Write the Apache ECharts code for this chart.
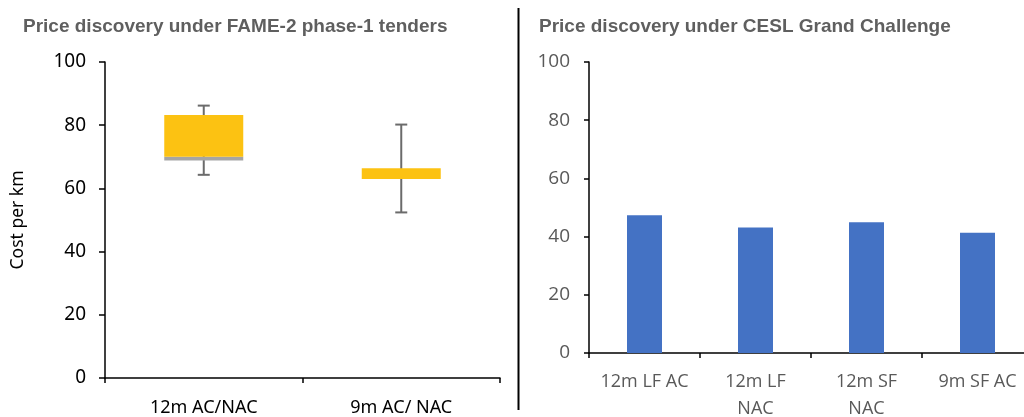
<!DOCTYPE html>
<html>
<head>
<meta charset="utf-8">
<script src="https://cdn.jsdelivr.net/npm/echarts@6/dist/echarts.min.js"></script>
<style>html,body{margin:0;padding:0;background:#fff}#c{width:1024px;height:417px}</style>
</head>
<body>
<div id="c"></div>
<script>
var boxCats = ['12m AC/NAC', '9m AC/ NAC'];
var boxMin = [64.3, 52.4];
var boxQ1 = [68.8, 63.0];
var boxMedian = [70.0, 63.0];
var boxQ3 = [83.2, 66.4];
var boxMax = [86.2, 80.2];

var barCats = ['12m LF AC', '12m LF\nNAC', '12m SF\nNAC', '9m SF AC'];
var barValues = [47.3, 43.1, 44.9, 41.3];

var yTicks = [0, 20, 40, 60, 80, 100];

var chart = echarts.init(document.getElementById('c'), null, {renderer: 'canvas'});

var boxData = boxCats.map(function (c, i) {
  return [i, boxMin[i], boxQ1[i], boxMedian[i], boxQ3[i], boxMax[i]];
});

function renderBox(params, api) {
  var x = api.value(0);
  var pMin = api.coord([x, api.value(1)]);
  var pQ1 = api.coord([x, api.value(2)]);
  var pMed = api.coord([x, api.value(3)]);
  var pQ3 = api.coord([x, api.value(4)]);
  var pMax = api.coord([x, api.value(5)]);
  var bw = api.size([1, 0])[0] * 0.4;
  var cap = 6;
  var wStyle = {stroke: '#6b6b6b', lineWidth: 2};
  return {
    type: 'group',
    children: [
      {type: 'line', shape: {x1: pMin[0], y1: pMin[1], x2: pMax[0], y2: pMax[1]}, style: wStyle},
      {type: 'line', shape: {x1: pMin[0] - cap, y1: pMin[1], x2: pMin[0] + cap, y2: pMin[1]}, style: wStyle},
      {type: 'line', shape: {x1: pMax[0] - cap, y1: pMax[1], x2: pMax[0] + cap, y2: pMax[1]}, style: wStyle},
      {type: 'rect', shape: {x: pQ1[0] - bw / 2, y: pMed[1], width: bw, height: pQ1[1] - pMed[1]}, style: {fill: '#a5a5a5'}},
      {type: 'rect', shape: {x: pMed[0] - bw / 2, y: pQ3[1], width: bw, height: pMed[1] - pQ3[1]}, style: {fill: '#fcc212'}}
    ]
  };
}

var axisLine = {show: true, lineStyle: {color: '#000', width: 1.5}};
var axisTick = {show: true, length: 5, lineStyle: {color: '#000', width: 1.5}};

var option = {
  animation: false,
  backgroundColor: '#fff',
  title: [
    {text: 'Price discovery under FAME-2 phase-1 tenders', left: 18, top: 12,
     textStyle: {fontFamily: 'Liberation Sans', fontWeight: 'bold', fontSize: 19, color: '#5f5f5f'}},
    {text: 'Price discovery under CESL Grand Challenge', left: 534, top: 12,
     textStyle: {fontFamily: 'Liberation Sans', fontWeight: 'bold', fontSize: 19, color: '#5f5f5f'}}
  ],
  grid: [
    {left: 105, right: 524, top: 62, bottom: 39, outerBoundsMode: 'none', containLabel: false},
    {left: 589, right: -9, top: 62, bottom: 64, outerBoundsMode: 'none', containLabel: false}
  ],
  xAxis: [
    {type: 'category', gridIndex: 0, data: boxCats, boundaryGap: true,
     axisLine: axisLine, axisTick: Object.assign({}, axisTick, {length: 5}),
     axisLabel: {color: '#000', fontSize: 18, fontFamily: 'Noto Sans', margin: 21, interval: 0}},
    {type: 'category', gridIndex: 1, data: barCats, boundaryGap: true,
     axisLine: axisLine, axisTick: axisTick,
     axisLabel: {color: '#595959', fontSize: 18, fontFamily: 'Open Sans', margin: 15, lineHeight: 27, interval: 0}}
  ],
  yAxis: [
    {type: 'value', gridIndex: 0, min: yTicks[0], max: yTicks[yTicks.length - 1], interval: 20,
     name: 'Cost per km', nameLocation: 'middle', nameRotate: 90, nameGap: 78,
     nameTextStyle: {color: '#000', fontSize: 17.5, fontFamily: 'Noto Sans'},
     axisLine: axisLine, axisTick: Object.assign({}, axisTick, {length: 6}), splitLine: {show: false},
     axisLabel: {color: '#000', fontSize: 19, fontFamily: 'Noto Sans', margin: 19}},
    {type: 'value', gridIndex: 1, min: yTicks[0], max: yTicks[yTicks.length - 1], interval: 20,
     axisLine: axisLine, axisTick: axisTick, splitLine: {show: false},
     axisLabel: {color: '#595959', fontSize: 19, fontFamily: 'Open Sans', margin: 19}}
  ],
  series: [
    {type: 'custom', xAxisIndex: 0, yAxisIndex: 0, renderItem: renderBox, data: boxData,
     encode: {x: 0, y: [1, 2, 3, 4, 5]}},
    {type: 'bar', xAxisIndex: 1, yAxisIndex: 1, data: barValues, barWidth: 35,
     itemStyle: {color: '#4472c4'}}
  ],
  graphic: [
    {type: 'line', shape: {x1: 518.5, y1: 8, x2: 518.5, y2: 410}, style: {stroke: '#000', lineWidth: 2}}
  ]
};
chart.setOption(option);
</script>
</body>
</html>
